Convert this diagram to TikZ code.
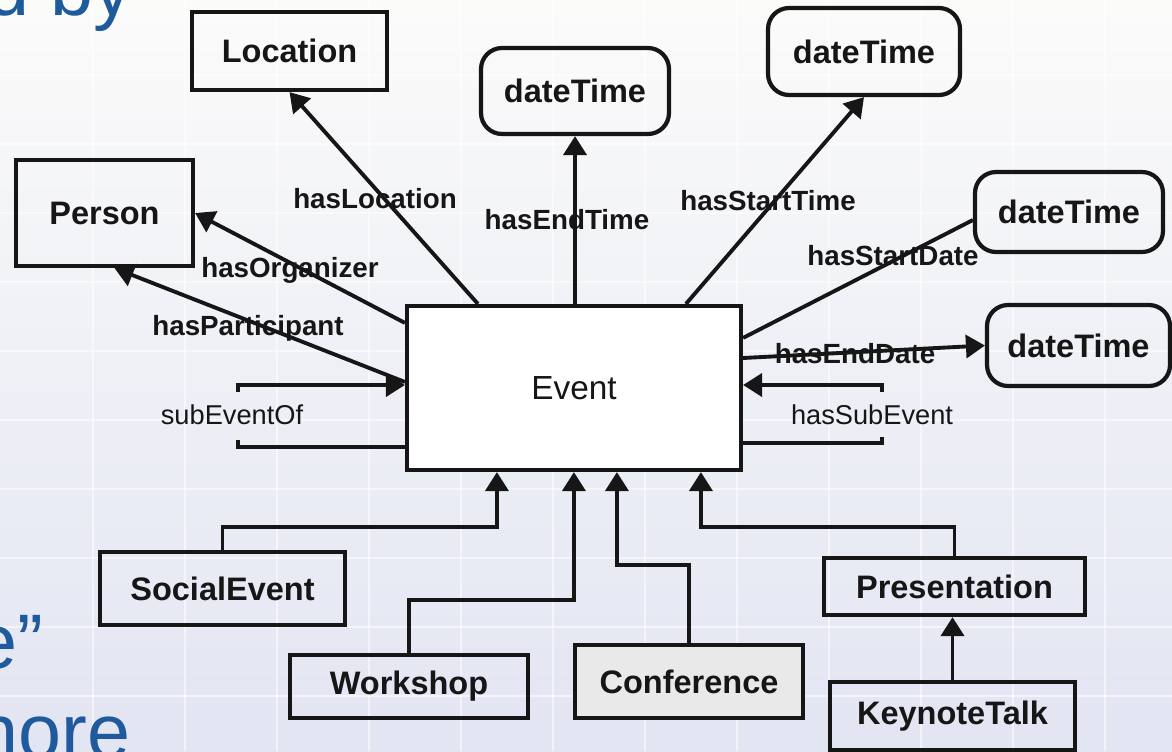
\documentclass[tikz,border=0pt]{standalone}
\usepackage{fontspec}
\setmainfont{Liberation Sans}
\usetikzlibrary{arrows.meta,calc}
\definecolor{slideblue}{HTML}{1F5A9C}
\definecolor{ink}{HTML}{161616}
\definecolor{bgtop}{HTML}{FBFBFA}
\definecolor{bgbot}{HTML}{E2E5F2}
\definecolor{confgray}{HTML}{E9E9E9}
\begin{document}
\begin{tikzpicture}[x=0.02cm,y=-0.02cm,
  box/.style={draw=ink, text=ink, line width=2.4pt, font=\bfseries\fontsize{18.5}{20}\selectfont, inner sep=0pt},
  dt/.style={box, rounded corners=0.42cm},
  lbl/.style={text=ink, font=\bfseries\fontsize{15.8}{17}\selectfont, inner sep=1pt},
  rlbl/.style={text=ink, font=\fontsize{15.5}{17}\selectfont, inner sep=1pt},
  conn/.style={line width=2.2pt, draw=ink},
  arr/.style={conn, -{Triangle[length=0.38cm,width=0.46cm]}},
  slide/.style={anchor=base east, text=slideblue, inner sep=0pt, font=\fontsize{44}{50}\selectfont},
]
\useasboundingbox (0,0) rectangle (1172,751);
\shade[top color=bgtop, bottom color=bgbot] (0,0) rectangle (1172,751);
\foreach \x in {93,185,...,1105} \draw[white, line width=1.2pt, opacity=0.55] (\x,0) -- (\x,751);
\foreach \y in {75,144,...,730} \draw[white, line width=1.2pt, opacity=0.55] (0,\y) -- (1172,\y);

% slide text behind the diagram
\node[slide] (s1) at (133,15) {d by};
\node[slide] (s2) at (44,668) {e”};
\node[slide] (s3) at (131,758) {nore};

% classes
\node[box, minimum width=3.9cm, minimum height=1.56cm] (loc) at (289.5,51) {Location};
\node[box, minimum width=3.54cm, minimum height=2.12cm] (person) at (104.5,213) {Person};
\node[dt, minimum width=3.76cm, minimum height=1.72cm] (dt1) at (575,91) {dateTime};
\node[dt, minimum width=3.84cm, minimum height=1.74cm] (dt2) at (864,51.5) {dateTime};
\node[dt, minimum width=3.76cm, minimum height=1.6cm] (dt3) at (1069,212) {dateTime};
\node[dt, minimum width=3.66cm, minimum height=1.62cm] (dt4) at (1078.5,345.5) {dateTime};
\node[box, fill=white, font=\fontsize{19}{21}\selectfont, minimum width=6.68cm, minimum height=3.28cm] (ev) at (574,388) {Event};
\node[box, minimum width=4.9cm, minimum height=1.46cm] (social) at (222.5,588.5) {SocialEvent};
\node[box, minimum width=4.76cm, minimum height=1.26cm] (work) at (409,686.5) {Workshop};
\node[box, fill=confgray, minimum width=4.56cm, minimum height=1.46cm] (conf) at (689,681.5) {Conference};
\node[box, minimum width=5.22cm, minimum height=1.14cm] (pres) at (954.5,586.5) {Presentation};
\node[box, minimum width=4.9cm, minimum height=1.36cm] (key) at (952.5,716) {KeynoteTalk};

% property labels
\node[lbl] (lLoc) at (375,199) {hasLocation};
\node[lbl] (lEndT) at (567,220) {hasEndTime};
\node[lbl] (lStT) at (768,201) {hasStartTime};
\node[lbl] (lStD) at (893,256) {hasStartDate};
\node[lbl] (lEndD) at (855,354) {hasEndDate};
\node[lbl] (lOrg) at (290,270) {hasOrganizer};
\node[lbl] (lPart) at (248,328) {hasParticipant};
\node[rlbl] (lSubOf) at (232,415) {subEventOf};
\node[rlbl] (lHasSub) at (872,415) {hasSubEvent};

% properties
\draw[arr] ($(ev.north west)+(73,0)$) -- (loc.south);
\draw[arr] (ev.north -| dt1.south) -- (dt1.south);
\draw[arr] ($(ev.north west)+(281,0)$) -- (dt2.south);
\draw[conn] ($(ev.north east)+(0,34)$) -- ($(dt3.west)+(0,8)$);
\draw[arr] ($(ev.east)+(0,-30)$) -- (dt4.west);
\draw[arr] ($(ev.north west)+(0,19)$) -- (person.east);
\draw[arr] ($(ev.west)+(0,-6)$) -- ($(person.south)+(10,0)$);

% self loops
\draw[arr] ($(ev.west)+(-167,4)$) -- ($(ev.west)+(-167,-3)$) -- ($(ev.west)+(0,-3)$);
\draw[conn] ($(ev.west)+(-167,52)$) -- ($(ev.west)+(-167,59)$) -- ($(ev.west)+(0,59)$);
\draw[arr] ($(ev.east)+(139,4)$) -- ($(ev.east)+(139,-3)$) -- ($(ev.east)+(0,-3)$);
\draw[conn] ($(ev.east)+(139,49)$) -- ($(ev.east)+(139,55)$) -- ($(ev.east)+(0,55)$);

% subclasses
\draw[arr] (social.north) |- ($(ev.south west)+(92,55)$) -- ($(ev.south west)+(92,0)$);
\draw[arr] (work.north) |- ($(ev.south west)+(169,128)$) -- ($(ev.south west)+(169,0)$);
\draw[arr] (conf.north) |- ($(ev.south west)+(212,93)$) -- ($(ev.south west)+(212,0)$);
\draw[arr] (pres.north) |- ($(ev.south west)+(296,55)$) -- ($(ev.south west)+(296,0)$);
\draw[arr] (key.north) -- (key.north |- pres.south);
\end{tikzpicture}
\end{document}
